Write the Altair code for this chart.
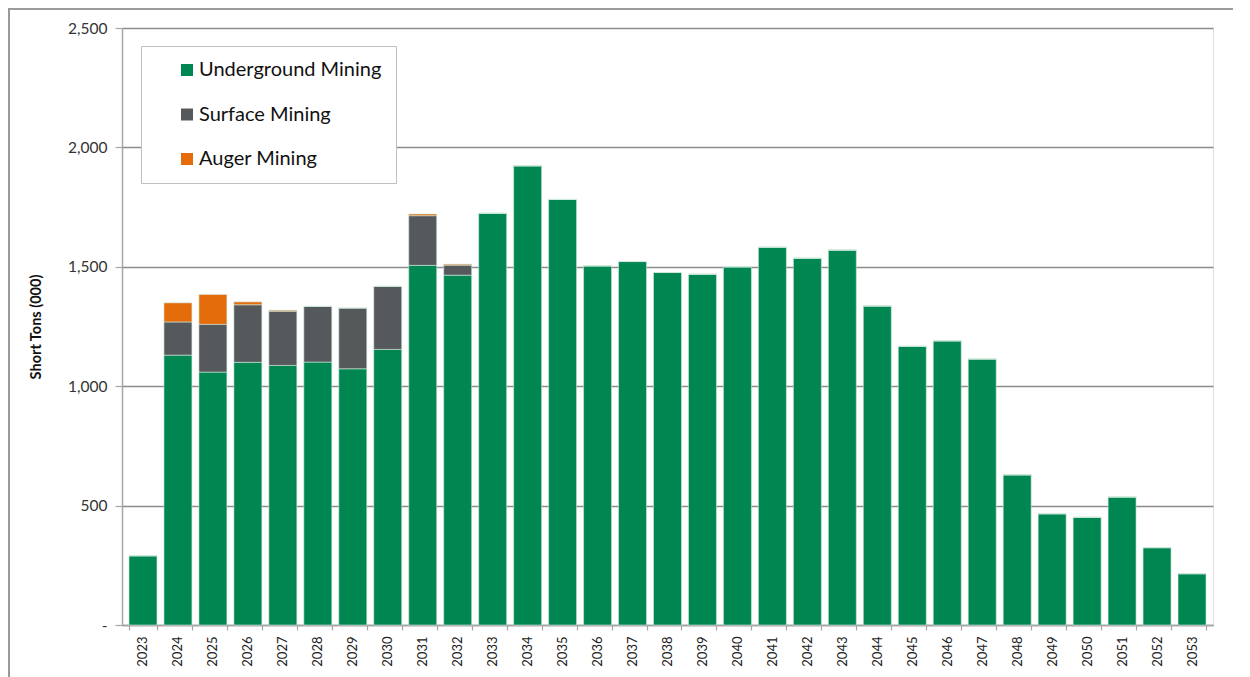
import altair as alt
import pandas as pd

years = [str(y) for y in range(2023, 2054)]
underground = [290, 1130, 1059, 1100, 1087, 1101, 1073, 1154, 1506, 1465,
               1724, 1923, 1782, 1504, 1522, 1476, 1469, 1500, 1582, 1536,
               1570, 1336, 1167, 1190, 1114, 629, 466, 451, 536, 324, 215]
surface = [0, 139, 200, 241, 227, 233, 254, 264, 208, 42,
           0, 0, 0, 0, 0, 0, 0, 0, 0, 0,
           0, 0, 0, 0, 0, 0, 0, 0, 0, 0, 0]
auger = [0, 80, 125, 12, 4, 0, 0, 0, 7, 4,
         0, 0, 0, 0, 0, 0, 0, 0, 0, 0,
         0, 0, 0, 0, 0, 0, 0, 0, 0, 0, 0]

series_names = ["Underground Mining", "Surface Mining", "Auger Mining"]
series_colors = ["#008751", "#55595C", "#E46C0A"]
y_ticks = [0, 500, 1000, 1500, 2000, 2500]

rows = []
for i, yr in enumerate(years):
    for k, (name, vals) in enumerate(zip(series_names, [underground, surface, auger])):
        rows.append({"Year": yr, "Series": name, "Value": vals[i], "order": k})
df = pd.DataFrame(rows)

FONT = "Lato"
GRID = "#8C8C8C"

bars = alt.Chart(df).mark_bar(stroke="#cfe9dc", strokeWidth=0.6).encode(
    x=alt.X("Year:N", sort=years,
            scale=alt.Scale(paddingInner=0.2, paddingOuter=0.2),
            axis=alt.Axis(title=None, labelAngle=-90, labelFontSize=13,
                          labelFont=FONT, labelColor="#222222",
                          labelPadding=6, tickBand="extent", tickSize=5,
                          tickColor="#A6A6A6", domainColor="#A6A6A6",
                          domainWidth=1.5, tickWidth=1.2, grid=False)),
    y=alt.Y("Value:Q", stack="zero",
            scale=alt.Scale(domain=[0, 2500], nice=False),
            axis=alt.Axis(title="Short Tons (000)", values=y_ticks,
                          labelExpr="datum.value == 0 ? '-' : format(datum.value, ',')",
                          labelFontSize=15.5, labelFont=FONT, labelColor="#333333",
                          labelPadding=8, tickSize=7, tickColor="#A6A6A6",
                          domainColor="#A6A6A6", domainWidth=1.5, tickWidth=1.2,
                          titleFont=FONT, titleFontSize=14.5, titleFontWeight="bold",
                          titleColor="#111111", titlePadding=24,
                          grid=True, gridColor=GRID, gridWidth=1.5)),
    color=alt.Color("Series:N",
                    scale=alt.Scale(domain=series_names, range=series_colors),
                    legend=alt.Legend(title=None, orient="none", legendX=19, legendY=18,
                                      fillColor="white", strokeColor="#BFBFBF",
                                      padding=14, symbolOffset=22,
                                      labelFontSize=20, labelFont=FONT, labelLimit=0,
                                      labelExpr="datum.label + '\u2002\u2002'",
                                      labelColor="#111111", symbolType="square",
                                      symbolSize=144, symbolStrokeWidth=0,
                                      rowPadding=24.5, labelOffset=2)),
    order=alt.Order("order:Q", sort="ascending"),
)

border_top = alt.Chart(df).mark_rule(color="#9A9A9A", strokeWidth=1.5, clip=False).encode(
    x=alt.value(-113), x2=alt.value(1125), y=alt.value(-19.5))
border_left = alt.Chart(df).mark_rule(color="#9A9A9A", strokeWidth=1.5, clip=False).encode(
    x=alt.value(-113.2), y=alt.value(-19.5), y2=alt.value(660))

chart = alt.layer(border_top, border_left, bars).properties(
    width=1091, height=597,
    autosize=alt.AutoSizeParams(type="none"),
    padding={"left": 114, "top": 20, "right": 20, "bottom": 52},
).configure_view(stroke=None).configure(background="white")

chart.save("out.html", embed_options={"renderer": "svg", "actions": False})
